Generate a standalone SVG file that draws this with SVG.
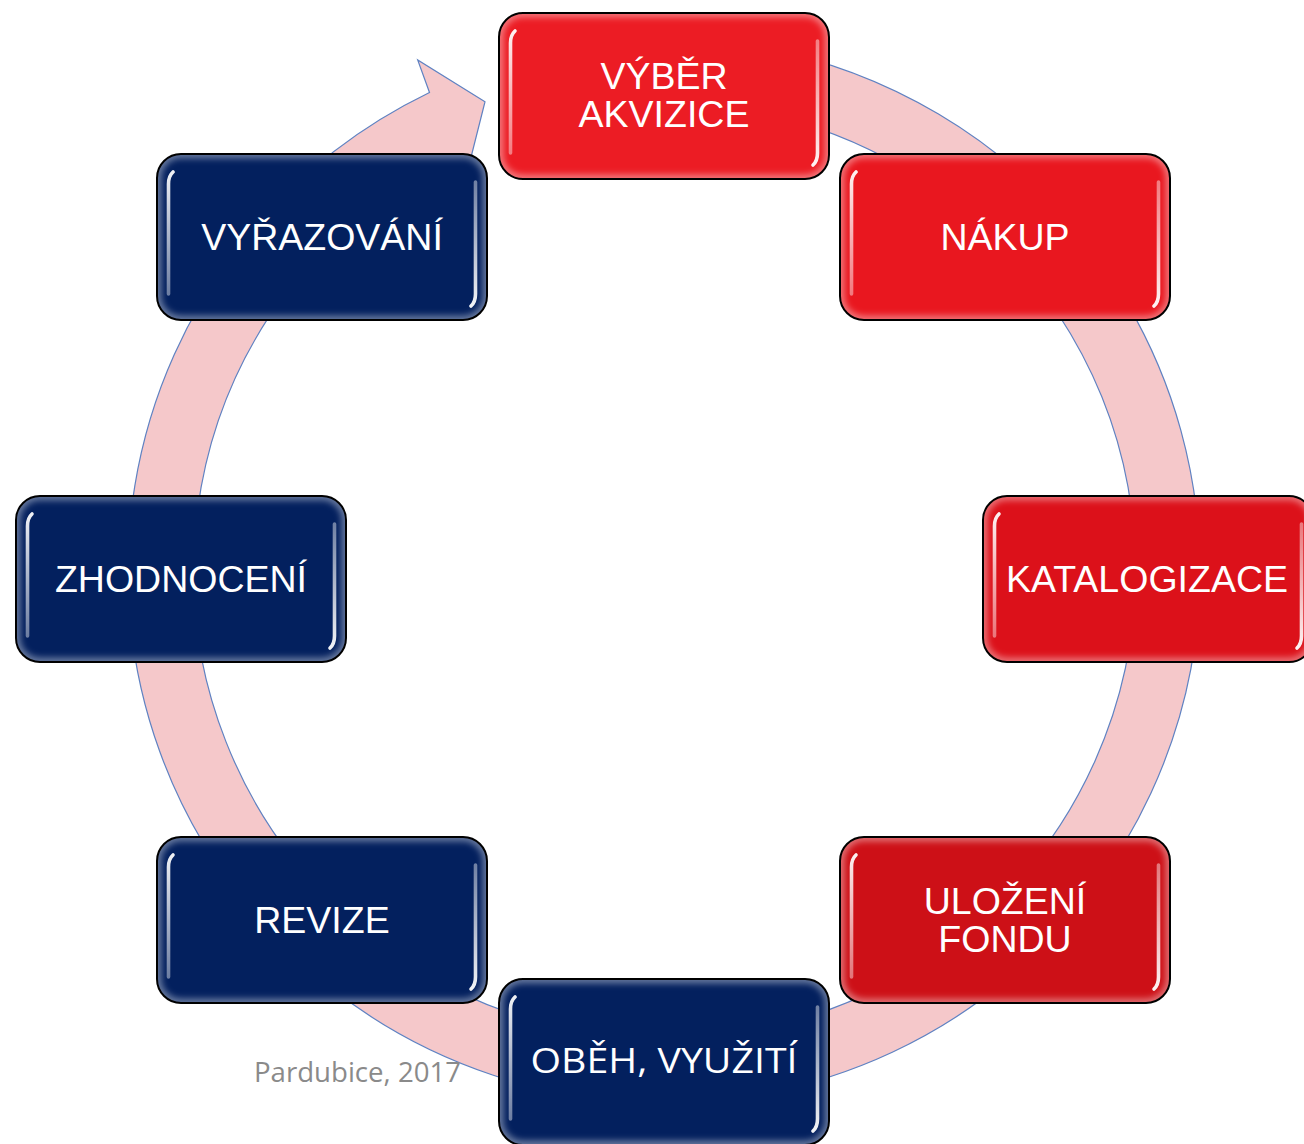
<svg xmlns="http://www.w3.org/2000/svg" xmlns:xlink="http://www.w3.org/1999/xlink" width="1304" height="1144" viewBox="0 0 1304 1144">
<defs>
  <clipPath id="boxClip"><rect width="330" height="166" rx="24" ry="24"/></clipPath>
  <filter id="blur3" x="-10%" y="-10%" width="120%" height="120%"><feGaussianBlur stdDeviation="3"/></filter>
  <filter id="blur1" x="-50%" y="-10%" width="200%" height="120%"><feGaussianBlur stdDeviation="0.7"/></filter>
  <linearGradient id="hlL" gradientUnits="userSpaceOnUse" x1="0" y1="15" x2="0" y2="145">
    <stop offset="0" stop-color="#ffffff" stop-opacity="0.95"/>
    <stop offset="1" stop-color="#ffffff" stop-opacity="0.4"/>
  </linearGradient>
  <linearGradient id="hlR" gradientUnits="userSpaceOnUse" x1="0" y1="20" x2="0" y2="152">
    <stop offset="0" stop-color="#ffffff" stop-opacity="0.4"/>
    <stop offset="1" stop-color="#ffffff" stop-opacity="0.95"/>
  </linearGradient>
  <style>
    .ring { fill: #f5c8ca; stroke: #5f82c2; stroke-width: 1.2; stroke-linejoin: miter; }
    .red .base { fill: #ec1c24; }
    .blue .base { fill: #03205e; }
    .glow { fill: none; stroke: #ffffff; stroke-opacity: 0.4; stroke-width: 9; filter: url(#blur3); clip-path: url(#boxClip); }
    .hlL { fill: none; stroke: url(#hlL); stroke-width: 3.6; stroke-linecap: round; filter: url(#blur1); }
    .hlR { fill: none; stroke: url(#hlR); stroke-width: 3.6; stroke-linecap: round; filter: url(#blur1); }
    .border { fill: none; stroke: #000000; stroke-width: 2; }
    .lbl { font-family: "Liberation Sans", Arial, sans-serif; font-size: 37.5px; fill: #ffffff; text-anchor: middle; }
    .lblC { font-family: "Open Sans", "Noto Sans", sans-serif; font-size: 35px; fill: #ffffff; text-anchor: middle; }
    .foot { font-family: "Open Sans", "Noto Sans", sans-serif; font-size: 27px; fill: #8a8a8a; }
  </style>
  <g id="shade">
    <rect class="glow" width="330" height="166" rx="24" ry="24"/>
    <path class="hlL" d="M11.5,140 L11.5,30 Q11.5,22 16,18"/>
    <path class="hlR" d="M318.5,28 L318.5,140 Q318.5,148 314,152"/>
    <rect class="border" width="330" height="166" rx="24" ry="24"/>
  </g>
</defs>

<g id="connectors">
  <path class="ring" d="M711.2,41 A536,532 0 1 1 429.5,92.5 L417.7,60 L485,101.7 L462,193 L443.4,157.8 A471,468 0 1 0 705.6,104.8 Z"/>
</g>

<text class="foot" x="254" y="1082" textLength="207" lengthAdjust="spacingAndGlyphs">Pardubice, 2017</text>

<g id="vyber" class="node red" transform="translate(499,13)">
  <rect class="base" width="330" height="166" rx="24" ry="24"/>
  <use xlink:href="#shade"/>
  <text class="lbl" x="165" y="76">VÝBĚR</text>
  <text class="lbl" x="165" y="114">AKVIZICE</text>
</g>

<g id="nakup" class="node red" transform="translate(840,154)">
  <rect class="base" width="330" height="166" rx="24" ry="24" style="fill:#e9171f"/>
  <use xlink:href="#shade"/>
  <text class="lbl" x="165" y="95.5">NÁKUP</text>
</g>

<g id="katalogizace" class="node red" transform="translate(983,496)">
  <rect class="base" width="330" height="166" rx="24" ry="24" style="fill:#dc111a"/>
  <use xlink:href="#shade"/>
  <text class="lbl" x="164" y="96">KATALOGIZACE</text>
</g>

<g id="ulozeni" class="node red" transform="translate(840,837)">
  <rect class="base" width="330" height="166" rx="24" ry="24" style="fill:#cd1017"/>
  <use xlink:href="#shade"/>
  <text class="lbl" x="165" y="77">ULOŽENÍ</text>
  <text class="lbl" x="165" y="115">FONDU</text>
</g>

<g id="obeh" class="node blue" transform="translate(499,979)">
  <rect class="base" width="330" height="166" rx="24" ry="24"/>
  <use xlink:href="#shade"/>
  <text class="lblC" x="165" y="94" textLength="267" lengthAdjust="spacingAndGlyphs">OBĚH, VYUŽITÍ</text>
</g>

<g id="revize" class="node blue" transform="translate(157,837)">
  <rect class="base" width="330" height="166" rx="24" ry="24"/>
  <use xlink:href="#shade"/>
  <text class="lbl" x="165" y="95.5">REVIZE</text>
</g>

<g id="zhodnoceni" class="node blue" transform="translate(16,496)">
  <rect class="base" width="330" height="166" rx="24" ry="24"/>
  <use xlink:href="#shade"/>
  <text class="lbl" x="165" y="95.5">ZHODNOCENÍ</text>
</g>

<g id="vyrazovani" class="node blue" transform="translate(157,154)">
  <rect class="base" width="330" height="166" rx="24" ry="24"/>
  <use xlink:href="#shade"/>
  <text class="lbl" x="165" y="95.5">VYŘAZOVÁNÍ</text>
</g>
</svg>
